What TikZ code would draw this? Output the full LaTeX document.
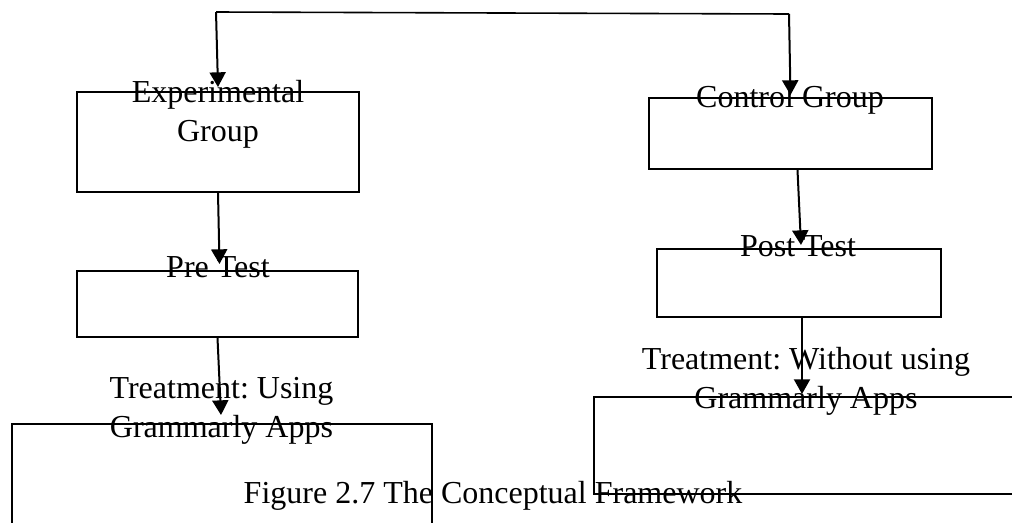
\documentclass[tikz,border=0pt]{standalone}
\usepackage{fontspec}
\setmainfont{Liberation Serif}
\usepackage{tikz}
\usetikzlibrary{positioning,arrows.meta,calc}
\frenchspacing
\tikzset{
  frame-box/.style={draw=black, line width=1.5pt, inner sep=0pt},
  label-text/.style={font=\fontsize{24}{29}\selectfont, align=center, anchor=base, inner sep=0pt},
  flow-arrow/.style={-{Triangle[length=11pt,width=12pt]}, line width=1.5pt, draw=black},
  plain-line/.style={line width=1.2pt, draw=black}
}
\begin{document}
\begin{tikzpicture}[x=0.75pt, y=-0.75pt]
\clip (0,0) rectangle (1012,522);

% Left branch boxes
\node[frame-box, minimum width=211.5pt, minimum height=75pt] (exp) at (218,142) {};
\node[frame-box, minimum width=210.75pt, minimum height=49.5pt] (pre) at (217.5,304) {};
\node[frame-box, minimum width=315pt, minimum height=102pt] (treat-l) at (222,492) {};

% Right branch boxes
\node[frame-box, minimum width=212.25pt, minimum height=53.25pt] (ctrl) at (790.5,133.5) {};
\node[frame-box, minimum width=213pt, minimum height=51pt] (post) at (799,283) {};
\node[frame-box, minimum width=327pt, minimum height=72.75pt] (treat-r) at (812,445.5) {};

% Split at the top
\coordinate (split-l) at (216,12);
\coordinate (split-r) at (789,14);
\draw[plain-line] (split-l) -- (split-r);
\draw[flow-arrow] (split-l) -- ($(exp.north)+(0,-4)$);
\draw[flow-arrow] (split-r) -- ($(ctrl.north)+(0,-2)$);

% Connections down each branch
\draw[flow-arrow] (exp.south) -- ($(pre.north)+(2,-6)$);
\draw[flow-arrow] (pre.south) -- ($(treat-l.north)+(-1,-8)$);
\draw[flow-arrow] ($(ctrl.south)+(7,0)$) -- ($(post.north)+(2,-3)$);
\draw[flow-arrow] ($(post.south)+(3,0)$) -- ($(treat-r.north)+(-10,-2)$);

% Labels (two-line labels sit on the baseline of their last line)
\node[label-text] (exp-lbl) at (218,141) {Experimental\\Group};
\node[label-text] (pre-lbl) at (218,277) {Pre Test};
\node[label-text] (treat-l-lbl) at (221.5,437) {Treatment: Using\\Grammarly Apps};
\node[label-text] (ctrl-lbl) at (790,107) {Control Group};
\node[label-text] (post-lbl) at (798,256) {Post Test};
\node[label-text] (treat-r-lbl) at (806,408) {Treatment: Without using\\Grammarly Apps};

% Caption
\node[label-text] (caption) at (493,503) {Figure 2.7 The Conceptual Framework};
\end{tikzpicture}
\end{document}
